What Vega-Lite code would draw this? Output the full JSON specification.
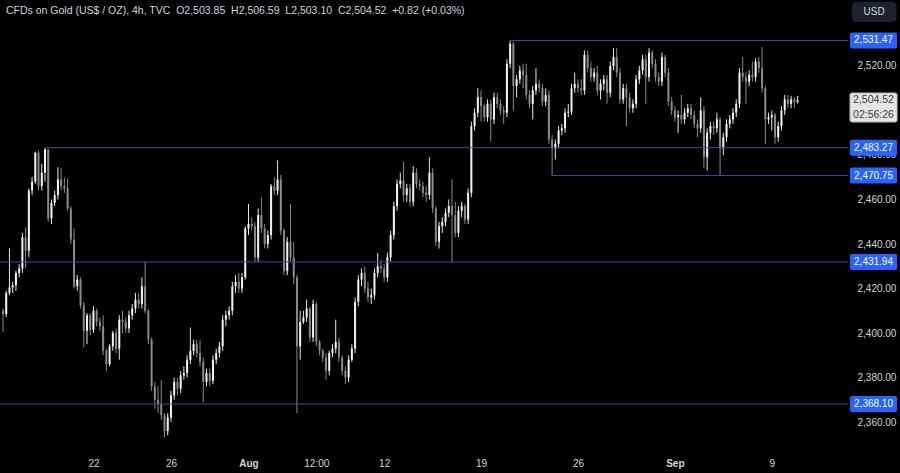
{
"$schema":"https://vega.github.io/schema/vega-lite/v6.json",
"width":848,"height":450,"autosize":{"type":"none"},
"padding":{"left":0,"top":0,"right":52,"bottom":23},
"background":"#000000",
"title":{"text":"CFDs on Gold (US$ / OZ), 4h, TVC\u00a0\u00a0O2,503.85\u00a0\u00a0H2,506.59\u00a0\u00a0L2,503.10\u00a0\u00a0C2,504.52\u00a0\u00a0+0.82 (+0.03%)","anchor":"start","frame":"group","orient":"top","offset":-16,"dx":6,"font":"Liberation Sans","fontSize":10.5,"fontWeight":"normal","color":"#d1d4dc"},
"config":{"view":{"stroke":null},"axis":{"domain":false,"ticks":false,"grid":false,"labelColor":"#d1d4dc","labelFont":"Liberation Sans","labelFontSize":10,"title":null,"zindex":0}},
"datasets":{
"candles":[
{"i":0,"o":2410,"h":2411,"l":2400.5,"c":2408.5},
{"i":1,"o":2408.5,"h":2419,"l":2407,"c":2418},
{"i":2,"o":2418,"h":2438,"l":2417,"c":2420.5},
{"i":3,"o":2420.5,"h":2423,"l":2418,"c":2421.5},
{"i":4,"o":2421.5,"h":2428,"l":2419,"c":2427},
{"i":5,"o":2427,"h":2431,"l":2425,"c":2429},
{"i":6,"o":2429,"h":2445,"l":2427,"c":2443},
{"i":7,"o":2443,"h":2447.5,"l":2429,"c":2437},
{"i":8,"o":2437,"h":2465,"l":2434,"c":2464},
{"i":9,"o":2464,"h":2470,"l":2462,"c":2468},
{"i":10,"o":2468,"h":2481.5,"l":2467,"c":2481},
{"i":11,"o":2481,"h":2482,"l":2464,"c":2466},
{"i":12,"o":2466,"h":2476,"l":2464,"c":2472},
{"i":13,"o":2472,"h":2483.27,"l":2468,"c":2482.5},
{"i":14,"o":2482.5,"h":2482.8,"l":2450,"c":2451.5},
{"i":15,"o":2451.5,"h":2460,"l":2449,"c":2458.5},
{"i":16,"o":2458.5,"h":2464,"l":2457,"c":2462},
{"i":17,"o":2462,"h":2474.5,"l":2460,"c":2469},
{"i":18,"o":2469,"h":2474,"l":2464,"c":2466},
{"i":19,"o":2466,"h":2470,"l":2463,"c":2465},
{"i":20,"o":2465,"h":2469.5,"l":2455,"c":2456},
{"i":21,"o":2456,"h":2457,"l":2440,"c":2442},
{"i":22,"o":2442,"h":2447,"l":2420,"c":2421},
{"i":23,"o":2421,"h":2426,"l":2419,"c":2424},
{"i":24,"o":2424,"h":2425,"l":2411,"c":2412.5},
{"i":25,"o":2412.5,"h":2414,"l":2393.5,"c":2401},
{"i":26,"o":2401,"h":2409,"l":2395,"c":2408},
{"i":27,"o":2408,"h":2409,"l":2399,"c":2401.5},
{"i":28,"o":2401.5,"h":2412,"l":2400,"c":2410},
{"i":29,"o":2410,"h":2411,"l":2403,"c":2405},
{"i":30,"o":2405,"h":2407,"l":2401,"c":2403},
{"i":31,"o":2403,"h":2408,"l":2390,"c":2392},
{"i":32,"o":2392,"h":2393,"l":2383,"c":2386},
{"i":33,"o":2386,"h":2395,"l":2385,"c":2394},
{"i":34,"o":2394,"h":2401,"l":2392,"c":2400},
{"i":35,"o":2400,"h":2402,"l":2391,"c":2393},
{"i":36,"o":2393,"h":2408,"l":2388,"c":2406},
{"i":37,"o":2406,"h":2410,"l":2400,"c":2405},
{"i":38,"o":2405,"h":2407,"l":2400,"c":2402},
{"i":39,"o":2402,"h":2410,"l":2400,"c":2408},
{"i":40,"o":2408,"h":2413,"l":2406,"c":2411},
{"i":41,"o":2411,"h":2418,"l":2409,"c":2415},
{"i":42,"o":2415,"h":2418,"l":2411,"c":2413},
{"i":43,"o":2413,"h":2425,"l":2411,"c":2421},
{"i":44,"o":2421,"h":2431.94,"l":2409,"c":2410},
{"i":45,"o":2410,"h":2411,"l":2395,"c":2397},
{"i":46,"o":2397,"h":2398,"l":2374,"c":2376},
{"i":47,"o":2376,"h":2378,"l":2366,"c":2370},
{"i":48,"o":2370,"h":2376,"l":2364,"c":2368},
{"i":49,"o":2368,"h":2379,"l":2361,"c":2363},
{"i":50,"o":2363,"h":2364,"l":2353,"c":2356},
{"i":51,"o":2356,"h":2364,"l":2354,"c":2362},
{"i":52,"o":2362,"h":2374,"l":2360,"c":2372},
{"i":53,"o":2372,"h":2380,"l":2370,"c":2378},
{"i":54,"o":2378,"h":2380,"l":2372,"c":2375},
{"i":55,"o":2375,"h":2383,"l":2373,"c":2381},
{"i":56,"o":2381,"h":2385,"l":2379,"c":2382},
{"i":57,"o":2382,"h":2390,"l":2380,"c":2388},
{"i":58,"o":2388,"h":2402.5,"l":2386,"c":2392},
{"i":59,"o":2392,"h":2397,"l":2390,"c":2395},
{"i":60,"o":2395,"h":2397,"l":2389,"c":2391},
{"i":61,"o":2391,"h":2397,"l":2385,"c":2387},
{"i":62,"o":2387,"h":2389,"l":2369,"c":2378},
{"i":63,"o":2378,"h":2384,"l":2376,"c":2382},
{"i":64,"o":2382,"h":2384,"l":2376,"c":2378.5},
{"i":65,"o":2378.5,"h":2390,"l":2377,"c":2388},
{"i":66,"o":2388,"h":2393,"l":2386,"c":2391},
{"i":67,"o":2391,"h":2396,"l":2389,"c":2394},
{"i":68,"o":2394,"h":2408,"l":2392,"c":2406},
{"i":69,"o":2406,"h":2410,"l":2403,"c":2408},
{"i":70,"o":2408,"h":2412,"l":2406,"c":2410},
{"i":71,"o":2410,"h":2423,"l":2408,"c":2421},
{"i":72,"o":2421,"h":2426,"l":2418,"c":2423},
{"i":73,"o":2423,"h":2427,"l":2418,"c":2420},
{"i":74,"o":2420,"h":2427,"l":2418,"c":2425},
{"i":75,"o":2425,"h":2448,"l":2424,"c":2447},
{"i":76,"o":2447,"h":2458,"l":2444,"c":2449},
{"i":77,"o":2449,"h":2452,"l":2446,"c":2448},
{"i":78,"o":2448,"h":2450,"l":2432,"c":2434},
{"i":79,"o":2434,"h":2456,"l":2432,"c":2453},
{"i":80,"o":2453,"h":2461,"l":2445,"c":2447},
{"i":81,"o":2447,"h":2449,"l":2438,"c":2440},
{"i":82,"o":2440,"h":2446,"l":2438,"c":2444},
{"i":83,"o":2444,"h":2467,"l":2442,"c":2466},
{"i":84,"o":2466,"h":2470,"l":2462,"c":2464},
{"i":85,"o":2464,"h":2477.5,"l":2462,"c":2469},
{"i":86,"o":2469,"h":2471,"l":2444,"c":2446},
{"i":87,"o":2446,"h":2447,"l":2426,"c":2428},
{"i":88,"o":2428,"h":2443,"l":2426,"c":2441},
{"i":89,"o":2441,"h":2458,"l":2432,"c":2434},
{"i":90,"o":2434,"h":2441,"l":2422,"c":2425},
{"i":91,"o":2425,"h":2426,"l":2364,"c":2394},
{"i":92,"o":2394,"h":2410,"l":2388,"c":2405},
{"i":93,"o":2405,"h":2410,"l":2404,"c":2407},
{"i":94,"o":2407,"h":2415,"l":2405,"c":2411},
{"i":95,"o":2411,"h":2412,"l":2396,"c":2398},
{"i":96,"o":2398,"h":2415,"l":2396,"c":2413},
{"i":97,"o":2413,"h":2414,"l":2394,"c":2396},
{"i":98,"o":2396,"h":2397,"l":2390,"c":2392},
{"i":99,"o":2392,"h":2393,"l":2387,"c":2389},
{"i":100,"o":2389,"h":2391,"l":2379,"c":2383},
{"i":101,"o":2383,"h":2392,"l":2381,"c":2391},
{"i":102,"o":2391,"h":2395,"l":2389,"c":2393},
{"i":103,"o":2393,"h":2406,"l":2391,"c":2396},
{"i":104,"o":2396,"h":2398,"l":2387,"c":2389},
{"i":105,"o":2389,"h":2390,"l":2381,"c":2383},
{"i":106,"o":2383,"h":2385,"l":2377,"c":2380},
{"i":107,"o":2380,"h":2390,"l":2378,"c":2388},
{"i":108,"o":2388,"h":2395,"l":2387,"c":2393},
{"i":109,"o":2393,"h":2416,"l":2391,"c":2414},
{"i":110,"o":2414,"h":2426,"l":2412,"c":2424},
{"i":111,"o":2424,"h":2429,"l":2421,"c":2427},
{"i":112,"o":2427,"h":2430,"l":2418,"c":2420},
{"i":113,"o":2420,"h":2423,"l":2414,"c":2416},
{"i":114,"o":2416,"h":2420,"l":2413,"c":2417},
{"i":115,"o":2417,"h":2429,"l":2415,"c":2427},
{"i":116,"o":2427,"h":2436,"l":2425,"c":2430},
{"i":117,"o":2430,"h":2433,"l":2427,"c":2429},
{"i":118,"o":2429,"h":2431,"l":2423,"c":2425},
{"i":119,"o":2425,"h":2436,"l":2423,"c":2434},
{"i":120,"o":2434,"h":2446,"l":2432,"c":2444},
{"i":121,"o":2444,"h":2459,"l":2442,"c":2457},
{"i":122,"o":2457,"h":2469,"l":2455,"c":2467},
{"i":123,"o":2467,"h":2472,"l":2465,"c":2468.5},
{"i":124,"o":2468.5,"h":2477,"l":2459,"c":2462},
{"i":125,"o":2462,"h":2467,"l":2459,"c":2465},
{"i":126,"o":2465,"h":2467,"l":2457,"c":2459},
{"i":127,"o":2459,"h":2475,"l":2457,"c":2472},
{"i":128,"o":2472,"h":2474,"l":2465,"c":2467},
{"i":129,"o":2467,"h":2469,"l":2464,"c":2466},
{"i":130,"o":2466,"h":2468,"l":2461,"c":2463},
{"i":131,"o":2463,"h":2466,"l":2459,"c":2462},
{"i":132,"o":2462,"h":2479,"l":2460,"c":2472},
{"i":133,"o":2472,"h":2474,"l":2454,"c":2456},
{"i":134,"o":2456,"h":2457,"l":2439,"c":2441},
{"i":135,"o":2441,"h":2450,"l":2438,"c":2448},
{"i":136,"o":2448,"h":2452,"l":2445,"c":2450},
{"i":137,"o":2450,"h":2456,"l":2448,"c":2454},
{"i":138,"o":2454,"h":2460,"l":2452,"c":2457},
{"i":139,"o":2457,"h":2469,"l":2431.5,"c":2453},
{"i":140,"o":2453,"h":2459,"l":2443,"c":2445},
{"i":141,"o":2445,"h":2457,"l":2443,"c":2455},
{"i":142,"o":2455,"h":2459,"l":2452,"c":2457},
{"i":143,"o":2457,"h":2458,"l":2449,"c":2451},
{"i":144,"o":2451,"h":2465,"l":2449,"c":2463},
{"i":145,"o":2463,"h":2495,"l":2461,"c":2493},
{"i":146,"o":2493,"h":2501,"l":2491,"c":2499},
{"i":147,"o":2499,"h":2510,"l":2497,"c":2506},
{"i":148,"o":2506,"h":2509,"l":2495,"c":2502},
{"i":149,"o":2502,"h":2503,"l":2495,"c":2497},
{"i":150,"o":2497,"h":2505,"l":2495,"c":2503},
{"i":151,"o":2503,"h":2505,"l":2486,"c":2496},
{"i":152,"o":2496,"h":2508,"l":2494,"c":2506},
{"i":153,"o":2506,"h":2508,"l":2501,"c":2503},
{"i":154,"o":2503,"h":2505,"l":2498,"c":2500},
{"i":155,"o":2500,"h":2502,"l":2494,"c":2499},
{"i":156,"o":2499,"h":2523,"l":2497,"c":2521},
{"i":157,"o":2521,"h":2531.47,"l":2519,"c":2530},
{"i":158,"o":2530,"h":2531,"l":2500,"c":2511},
{"i":159,"o":2511,"h":2516,"l":2506,"c":2514},
{"i":160,"o":2514,"h":2520,"l":2512,"c":2518},
{"i":161,"o":2518,"h":2521,"l":2510,"c":2516},
{"i":162,"o":2516,"h":2521,"l":2505,"c":2507},
{"i":163,"o":2507,"h":2509,"l":2501,"c":2503},
{"i":164,"o":2503,"h":2511,"l":2496,"c":2509},
{"i":165,"o":2509,"h":2519,"l":2507,"c":2512},
{"i":166,"o":2512,"h":2514,"l":2508,"c":2510},
{"i":167,"o":2510,"h":2512,"l":2502,"c":2504},
{"i":168,"o":2504,"h":2510,"l":2502,"c":2507},
{"i":169,"o":2507,"h":2509,"l":2485,"c":2487},
{"i":170,"o":2487,"h":2489,"l":2470.75,"c":2483},
{"i":171,"o":2483,"h":2487,"l":2478,"c":2485},
{"i":172,"o":2485,"h":2493,"l":2483,"c":2491},
{"i":173,"o":2491,"h":2494,"l":2489,"c":2492},
{"i":174,"o":2492,"h":2501,"l":2490,"c":2499},
{"i":175,"o":2499,"h":2503,"l":2497,"c":2499.5},
{"i":176,"o":2499.5,"h":2512,"l":2498,"c":2510},
{"i":177,"o":2510,"h":2517,"l":2508,"c":2512},
{"i":178,"o":2512,"h":2514,"l":2508,"c":2510},
{"i":179,"o":2510,"h":2514,"l":2507,"c":2509},
{"i":180,"o":2509,"h":2527,"l":2507,"c":2525},
{"i":181,"o":2525,"h":2527,"l":2517,"c":2519},
{"i":182,"o":2519,"h":2522,"l":2513,"c":2515},
{"i":183,"o":2515,"h":2519,"l":2513,"c":2517},
{"i":184,"o":2517,"h":2520,"l":2507,"c":2509},
{"i":185,"o":2509,"h":2514,"l":2505,"c":2512},
{"i":186,"o":2512,"h":2516,"l":2509,"c":2514},
{"i":187,"o":2514,"h":2516,"l":2503,"c":2508},
{"i":188,"o":2508,"h":2522,"l":2506,"c":2520},
{"i":189,"o":2520,"h":2528,"l":2518,"c":2524},
{"i":190,"o":2524,"h":2528,"l":2515,"c":2517},
{"i":191,"o":2517,"h":2519,"l":2503,"c":2505},
{"i":192,"o":2505,"h":2512,"l":2503,"c":2510},
{"i":193,"o":2510,"h":2512,"l":2493,"c":2506},
{"i":194,"o":2506,"h":2508,"l":2499,"c":2501},
{"i":195,"o":2501,"h":2505,"l":2499,"c":2503},
{"i":196,"o":2503,"h":2516,"l":2501,"c":2514},
{"i":197,"o":2514,"h":2520,"l":2512,"c":2518},
{"i":198,"o":2518,"h":2525,"l":2516,"c":2523},
{"i":199,"o":2523,"h":2525,"l":2503,"c":2515},
{"i":200,"o":2515,"h":2528,"l":2513,"c":2526},
{"i":201,"o":2526,"h":2527,"l":2519,"c":2521},
{"i":202,"o":2521,"h":2523,"l":2513,"c":2515},
{"i":203,"o":2515,"h":2517,"l":2511,"c":2513},
{"i":204,"o":2513,"h":2526,"l":2511,"c":2524},
{"i":205,"o":2524,"h":2525,"l":2515,"c":2517},
{"i":206,"o":2517,"h":2519,"l":2502,"c":2504},
{"i":207,"o":2504,"h":2506,"l":2498,"c":2500},
{"i":208,"o":2500,"h":2502,"l":2495,"c":2497},
{"i":209,"o":2497,"h":2500,"l":2490,"c":2498},
{"i":210,"o":2498,"h":2507,"l":2494,"c":2496},
{"i":211,"o":2496,"h":2501,"l":2494,"c":2499},
{"i":212,"o":2499,"h":2503,"l":2497,"c":2501},
{"i":213,"o":2501,"h":2503,"l":2496,"c":2498},
{"i":214,"o":2498,"h":2500,"l":2492,"c":2494},
{"i":215,"o":2494,"h":2496,"l":2488,"c":2492},
{"i":216,"o":2492,"h":2506,"l":2490,"c":2500},
{"i":217,"o":2500,"h":2502,"l":2474,"c":2479},
{"i":218,"o":2479,"h":2492,"l":2473,"c":2490},
{"i":219,"o":2490,"h":2495,"l":2487,"c":2493},
{"i":220,"o":2493,"h":2495,"l":2489,"c":2492},
{"i":221,"o":2492,"h":2499,"l":2490,"c":2496},
{"i":222,"o":2496,"h":2497,"l":2471,"c":2483},
{"i":223,"o":2483,"h":2490,"l":2480,"c":2488},
{"i":224,"o":2488,"h":2496,"l":2486,"c":2494},
{"i":225,"o":2494,"h":2498,"l":2492,"c":2496},
{"i":226,"o":2496,"h":2501,"l":2494,"c":2499},
{"i":227,"o":2499,"h":2505,"l":2497,"c":2503},
{"i":228,"o":2503,"h":2519,"l":2501,"c":2517},
{"i":229,"o":2517,"h":2524,"l":2513,"c":2515},
{"i":230,"o":2515,"h":2517,"l":2503,"c":2513},
{"i":231,"o":2513,"h":2518,"l":2511,"c":2516},
{"i":232,"o":2516,"h":2522,"l":2513,"c":2515},
{"i":233,"o":2515,"h":2523.5,"l":2513,"c":2522},
{"i":234,"o":2522,"h":2524,"l":2517,"c":2519},
{"i":235,"o":2519,"h":2528.5,"l":2508,"c":2510},
{"i":236,"o":2510,"h":2511,"l":2485,"c":2496},
{"i":237,"o":2496,"h":2499,"l":2494,"c":2497},
{"i":238,"o":2497,"h":2500,"l":2491,"c":2498},
{"i":239,"o":2498,"h":2499,"l":2485,"c":2488},
{"i":240,"o":2488,"h":2495,"l":2486,"c":2493},
{"i":241,"o":2493,"h":2502,"l":2491,"c":2500},
{"i":242,"o":2500,"h":2507,"l":2498,"c":2505},
{"i":243,"o":2505,"h":2507,"l":2501,"c":2503},
{"i":244,"o":2503,"h":2506.5,"l":2501,"c":2505},
{"i":245,"o":2505,"h":2506,"l":2501,"c":2503.85},
{"i":246,"o":2503.85,"h":2506.59,"l":2503.1,"c":2504.52}
],
"levels":[
{"p":2531.47,"s":157},
{"p":2483.27,"s":13},
{"p":2470.75,"s":170},
{"p":2431.94,"s":-1},
{"p":2368.10,"s":-1}
],
"last":[{"price":2504.52,"timer":"02:56:26"}],
"unit":[{"label":"USD"}]
},
"encoding":{
"x":{"type":"quantitative","scale":{"domain":[-0.93,261.6],"nice":false,"zero":false,"padding":0},
"axis":{"values":[28,52,76,97,118,148,178,208,238],"labelPadding":8,"labelFlush":false,"labelOverlap":false,
"labelExpr":"datum.value==28?'22':datum.value==52?'26':datum.value==76?'Aug':datum.value==97?'12:00':datum.value==118?'12':datum.value==148?'19':datum.value==178?'26':datum.value==208?'Sep':'9'",
"labelFontWeight":{"condition":{"test":"datum.value==76||datum.value==208","value":"bold"},"value":"normal"}}},
"y":{"type":"quantitative","scale":{"domain":[2347.42,2549.66],"nice":false,"zero":false,"padding":0},
"axis":{"orient":"right","values":[2360,2380,2400,2420,2440,2460,2480,2520],"format":",.2f","labelPadding":9,"labelAlign":"left"}}
},
"layer":[
{"data":{"name":"candles"},"mark":{"type":"rule","strokeWidth":1},
"encoding":{"x":{"field":"i"},"y":{"field":"l"},"y2":{"field":"h"},
"color":{"condition":{"test":"datum.c>=datum.o","value":"#e8e8e8"},"value":"#8a8a8a"}}},
{"data":{"name":"candles"},"mark":{"type":"bar","size":2},
"encoding":{"x":{"field":"i"},"y":{"field":"o"},"y2":{"field":"c"},
"color":{"condition":{"test":"datum.c>=datum.o","value":"#f2f2f2"},"value":"#8a8a8a"}}},
{"data":{"name":"levels"},"mark":{"type":"rule","color":"#3a4cb0","strokeWidth":1},
"encoding":{"x":{"field":"s"},"x2":{"datum":261.6},"y":{"field":"p"}}},
{"data":{"name":"levels"},"mark":{"type":"bar","size":16,"color":"#2962ff","cornerRadius":2,"clip":false},
"encoding":{"x":{"datum":262.2},"x2":{"datum":276.8},"y":{"field":"p"}}},
{"data":{"name":"levels"},"mark":{"type":"text","color":"#ffffff","font":"Liberation Sans","fontSize":10,"align":"center","baseline":"middle","clip":false},
"encoding":{"x":{"datum":269.5},"y":{"field":"p"},"text":{"field":"p","format":",.2f"}}},
{"data":{"name":"last"},"mark":{"type":"rect","fill":"#e4e4e4","stroke":"#a8a8a8","strokeWidth":1,"cornerRadius":2,"clip":false},
"encoding":{"x":{"datum":262.2},"x2":{"datum":276.8},"y":{"datum":2507.9},"y2":{"datum":2494.8}}},
{"data":{"name":"last"},"mark":{"type":"text","color":"#3c3c3c","font":"Liberation Sans","fontSize":10.5,"align":"center","baseline":"middle","clip":false},
"encoding":{"x":{"datum":269.5},"y":{"field":"price"},"text":{"field":"price","format":",.2f"}}},
{"data":{"name":"last"},"mark":{"type":"text","color":"#3c3c3c","font":"Liberation Sans","fontSize":10.5,"align":"center","baseline":"middle","clip":false},
"encoding":{"x":{"datum":269.5},"y":{"datum":2498.0},"text":{"field":"timer"}}},
{"data":{"name":"unit"},"mark":{"type":"rect","color":"#1e222d","cornerRadius":4,"clip":false},
"encoding":{"x":{"datum":262.8},"x2":{"datum":276.6},"y":{"datum":2548.9},"y2":{"datum":2539.8}}},
{"data":{"name":"unit"},"mark":{"type":"text","color":"#d1d4dc","font":"Liberation Sans","fontSize":10,"align":"center","baseline":"middle","clip":false},
"encoding":{"x":{"datum":269.7},"y":{"datum":2544.4},"text":{"field":"label"}}}
]
}
